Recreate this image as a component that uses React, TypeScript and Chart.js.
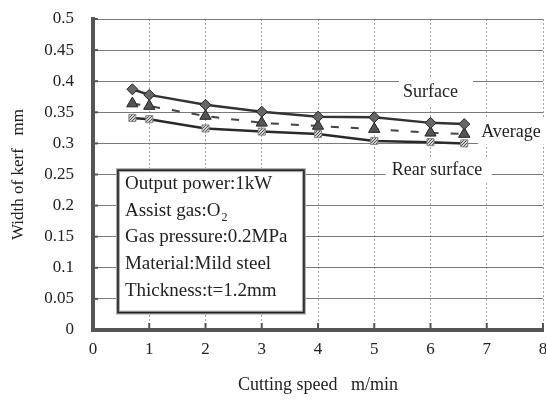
import React, { useEffect, useRef } from "react";
import { Chart, registerables } from "chart.js";

Chart.register(...registerables);

// ---- data ----
const speeds = [0.7, 1, 2, 3, 4, 5, 6, 6.6];
const surface = [0.387, 0.378, 0.362, 0.351, 0.343, 0.342, 0.333, 0.331];
const average = [0.364, 0.36, 0.344, 0.333, 0.328, 0.323, 0.317, 0.315];
const rear = [0.341, 0.339, 0.324, 0.319, 0.315, 0.304, 0.302, 0.3];
const seriesNames = ["Surface", "Average", "Rear surface"];
const conditions = [
  "Output power:1kW",
  "Assist gas:O",
  "Gas pressure:0.2MPa",
  "Material:Mild steel",
  "Thickness:t=1.2mm",
];
const xTitle = "Cutting speed   m/min";
const yTitle = "Width of kerf   mm";

// ---- label placement (data coordinates) ----
const labelAnchors = [
  { x: 5.51, y: 0.375, gapL: 4, gapR: 70 },
  { x: 6.9, y: 0.311, gapL: 3, gapR: 70 },
  { x: 5.31, y: 0.249, gapL: 6, gapR: 100 },
];
const boxArea = { x1: 0.444, x2: 3.75, yTop: 0.257, yBottom: 0.028 };

const FONT = "'Liberation Serif', 'Times New Roman', serif";

export default function App() {
  const ref = useRef<HTMLCanvasElement>(null);

  useEffect(() => {
    const canvas = ref.current!;
    const pc = document.createElement("canvas");
    pc.width = 3;
    pc.height = 3;
    const pctx = pc.getContext("2d")!;
    pctx.fillStyle = "#d0d0d0";
    pctx.fillRect(0, 0, 3, 3);
    pctx.fillStyle = "#555";
    pctx.fillRect(0, 0, 1, 1);
    pctx.fillRect(2, 1, 1, 1);
    pctx.fillRect(1, 2, 1, 1);
    const pattern = canvas.getContext("2d")!.createPattern(pc, "repeat")!;

    const decor = {
      id: "decor",
      beforeDatasetsDraw(chart: any) {
        const { ctx, chartArea, scales } = chart;
        const x = scales.x;
        const y = scales.y;
        ctx.save();
        // inner tick marks
        ctx.strokeStyle = "#555";
        ctx.lineWidth = 2;
        x.ticks.forEach((t: any) => {
          if (t.value === 0) return;
          const px = x.getPixelForValue(t.value);
          ctx.beginPath();
          ctx.moveTo(px, chartArea.bottom);
          ctx.lineTo(px, chartArea.bottom - 7);
          ctx.stroke();
        });
        y.ticks.forEach((t: any) => {
          if (t.value === 0) return;
          const py = y.getPixelForValue(t.value);
          ctx.beginPath();
          ctx.moveTo(chartArea.left, py);
          ctx.lineTo(chartArea.left + 5, py);
          ctx.stroke();
        });

        // series labels
        ctx.font = `18px ${FONT}`;
        ctx.textBaseline = "alphabetic";
        ctx.textAlign = "left";
        seriesNames.forEach((name, i) => {
          const a = labelAnchors[i];
          const px = x.getPixelForValue(a.x);
          const py = y.getPixelForValue(a.y);
          ctx.fillStyle = "#fff";
          ctx.fillRect(px - a.gapL, py - 18, a.gapR + a.gapL, 26);
          ctx.fillStyle = "#222";
          ctx.fillText(name, px, py);
        });

        // condition box
        const bx1 = x.getPixelForValue(boxArea.x1);
        const bx2 = x.getPixelForValue(boxArea.x2);
        const by1 = y.getPixelForValue(boxArea.yTop);
        const by2 = y.getPixelForValue(boxArea.yBottom);
        ctx.fillStyle = "#fff";
        ctx.fillRect(bx1, by1, bx2 - bx1, by2 - by1);
        ctx.strokeStyle = "#aaa";
        ctx.lineWidth = 4;
        ctx.strokeRect(bx1, by1, bx2 - bx1, by2 - by1);
        ctx.strokeStyle = "#222";
        ctx.lineWidth = 1.6;
        ctx.strokeRect(bx1, by1, bx2 - bx1, by2 - by1);
        ctx.fillStyle = "#222";
        ctx.font = `19px ${FONT}`;
        conditions.forEach((line, i) => {
          const ty = by1 + 18.5 + i * 26.9;
          ctx.fillText(line, bx1 + 7, ty);
          if (i === 1) {
            const w = ctx.measureText(line).width;
            ctx.font = `12px ${FONT}`;
            ctx.fillText("2", bx1 + 7 + w + 1, ty + 5);
            ctx.font = `19px ${FONT}`;
          }
        });
        ctx.restore();
      },
    };

    const chart = new Chart(canvas, {
      type: "line",
      data: {
        datasets: [
          {
            label: seriesNames[0],
            data: speeds.map((s, i) => ({ x: s, y: surface[i] })),
            borderColor: "#333",
            borderWidth: 2.5,
            pointStyle: "rectRot",
            pointRadius: 5.5,
            pointBackgroundColor: "#666",
            pointBorderColor: "#222",
            pointBorderWidth: 1,
          },
          {
            label: seriesNames[1],
            data: speeds.map((s, i) => ({ x: s, y: average[i] })),
            borderColor: "#444",
            borderWidth: 2,
            borderDash: [8, 12],
            pointStyle: "triangle",
            pointRadius: 6.5,
            pointBackgroundColor: "#555",
            pointBorderColor: "#222",
            pointBorderWidth: 1,
          },
          {
            label: seriesNames[2],
            data: speeds.map((s, i) => ({ x: s, y: rear[i] })),
            borderColor: "#2a2a2a",
            borderWidth: 2.5,
            pointStyle: "rect",
            pointRadius: 5,
            pointBackgroundColor: pattern as any,
            pointBorderColor: "#888",
            pointBorderWidth: 1,
          },
        ],
      },
      plugins: [decor],
      options: {
        animation: false,
        responsive: false,
        devicePixelRatio: 1,
        layout: { padding: { left: 0, top: 19, right: 0, bottom: 0 } },
        plugins: {
          legend: { display: false },
          tooltip: { enabled: false },
        },
        scales: {
          x: {
            type: "linear",
            min: 0,
            max: 8,
            afterFit: (s: any) => {
              s.height = 72;
              s.paddingRight = 14;
              s.paddingLeft = 0;
            },
            ticks: {
              stepSize: 1,
              padding: 9,
              color: "#222",
              font: { family: FONT, size: 17 },
            },
            grid: {
              drawTicks: false,
              color: (c: any) => (c.tick && c.tick.value === 0 ? "rgba(0,0,0,0)" : "#a0a0a0"),
              lineWidth: 1,
            },
            border: { display: true, width: 4, color: "#555", dash: [2, 2] },
            title: {
              display: true,
              text: xTitle,
              color: "#222",
              font: { family: FONT, size: 18 },
              padding: { top: 0, bottom: 6 },
            },
          },
          y: {
            type: "linear",
            min: 0,
            max: 0.5,
            afterFit: (s: any) => {
              s.width = 93;
              s.paddingTop = 0;
              s.paddingBottom = 0;
            },
            ticks: {
              stepSize: 0.05,
              padding: 19,
              color: "#222",
              font: { family: FONT, size: 17 },
              callback: (v: any) => String(Math.round(Number(v) * 100) / 100),
            },
            grid: {
              drawTicks: false,
              color: (c: any) => (c.tick && c.tick.value === 0 ? "rgba(0,0,0,0)" : "#7a7a7a"),
              lineWidth: 1,
            },
            border: { display: true, width: 4, color: "#555" },
            title: {
              display: true,
              text: yTitle,
              color: "#222",
              font: { family: FONT, size: 17 },
              padding: { top: 8, bottom: 0 },
            },
          },
        },
      },
    });
    return () => chart.destroy();
  }, []);

  return (
    <div
      style={{
        position: "absolute",
        left: 0,
        top: 0,
        width: 546,
        height: 402,
        overflow: "hidden",
        background: "#fff",
      }}
    >
      <canvas ref={ref} width={557} height={402} style={{ display: "block" }} />
    </div>
  );
}
